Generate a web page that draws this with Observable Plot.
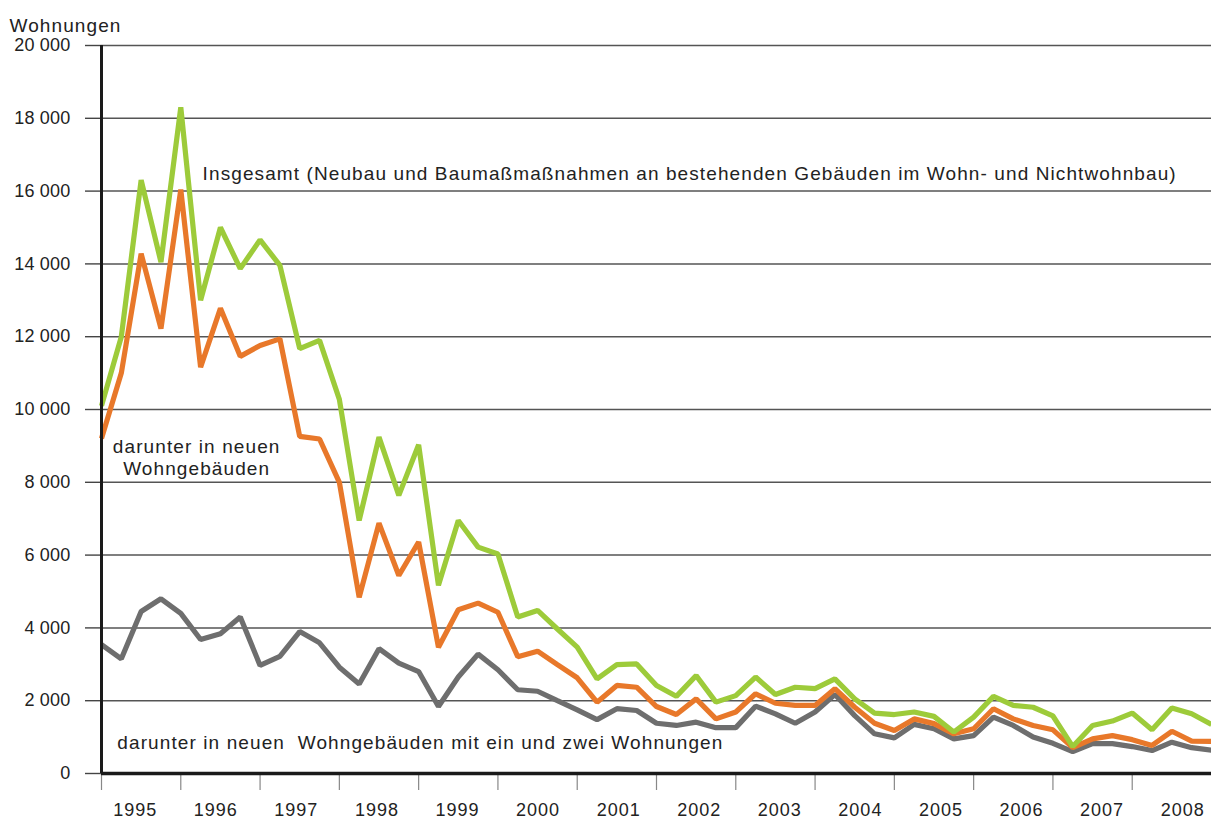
<!DOCTYPE html>
<html>
<head>
<meta charset="utf-8">
<script src="https://cdn.jsdelivr.net/npm/d3@7"></script>
<script src="https://cdn.jsdelivr.net/npm/@observablehq/plot@0.6"></script>
<style>
  html, body { margin: 0; padding: 0; background: #fff; }
  svg { font-family: "Liberation Sans", Arial, sans-serif; }
</style>
</head>
<body>
<div id="chart"></div>
<script>
// Quarterly values, 1995 Q1 ... 2009 Q1 (index 0..56)
const years = [1995,1996,1997,1998,1999,2000,2001,2002,2003,2004,2005,2006,2007,2008];
const yTicks = [0,2000,4000,6000,8000,10000,12000,14000,16000,18000,20000];

const insgesamt = [10100,12000,16300,14050,18300,13000,15000,13870,14660,13960,11670,11900,
  10280,6950,9240,7640,9030,5170,6950,6220,6030,4300,4480,3970,
  3470,2600,2990,3010,2420,2120,2690,1960,2140,2650,2170,2370,
  2330,2600,2050,1660,1620,1690,1570,1140,1550,2120,1870,1820,
  1580,740,1320,1440,1660,1200,1800,1640,1350];

const neueWohngebaeude = [9200,11000,14280,12220,16040,11160,12780,11460,11760,11940,9260,9190,
  8000,4840,6880,5440,6360,3470,4500,4680,4430,3210,3360,2990,
  2630,1960,2420,2370,1840,1620,2050,1500,1690,2190,1930,1870,
  1870,2330,1820,1380,1180,1500,1370,1090,1230,1780,1500,1320,
  1200,710,950,1040,930,770,1160,890,880];

const einZweiWohnungen = [3540,3150,4450,4800,4400,3680,3840,4300,2970,3220,3900,3590,
  2920,2460,3430,3030,2800,1840,2650,3280,2850,2300,2260,2000,
  1750,1480,1780,1730,1380,1320,1410,1260,1260,1850,1640,1380,
  1690,2170,1590,1090,980,1350,1230,950,1040,1550,1320,1000,
  830,600,820,820,740,630,860,710,640];

const toRows = arr => arr.map((v, i) => ({q: i, v}));

const boundaries = years.map((y, k) => k * 4);
const labelPos = years.map((y, k) => 1.7 + k * 4.065);

const font = '"Liberation Sans", Arial, sans-serif';

const chart = Plot.plot({
  width: 1211,
  height: 821,
  marginLeft: 101,
  marginRight: 0,
  marginTop: 45,
  marginBottom: 48,
  style: {fontFamily: font, fontSize: "17px", color: "#222", background: "#fff"},
  x: {domain: [0, 56], axis: null},
  y: {domain: [0, 20000], axis: null},
  marks: [
    Plot.gridY(yTicks.filter(d => d > 0), {stroke: "#555", strokeOpacity: 1, strokeWidth: 1.5}),
    Plot.axisY(yTicks, {
      tickSize: 16, tickPadding: 15, stroke: "#444", strokeWidth: 1.4,
      tickFormat: d => d3.format(",")(d).replace(/,/g, " "),
      fontSize: 18, fill: "#222", label: null
    }),
    Plot.axisX(boundaries, {
      anchor: "bottom", tickSize: 17, tickPadding: 0, stroke: "#888", strokeWidth: 1.2,
      tickFormat: () => "", label: null
    }),
    Plot.axisX(labelPos, {
      anchor: "bottom", tickSize: 0, tickPadding: 30,
      tickFormat: (d, i) => String(years[i]), fontSize: 18, fill: "#222", label: null
    }),
    Plot.line(toRows(einZweiWohnungen), {x: "q", y: "v", stroke: "#6e6e6e", strokeWidth: 5.2, strokeLinejoin: "miter", strokeLinecap: "butt"}),
    Plot.line(toRows(neueWohngebaeude), {x: "q", y: "v", stroke: "#e8782a", strokeWidth: 5.2, strokeLinejoin: "miter", strokeLinecap: "butt"}),
    Plot.line(toRows(insgesamt), {x: "q", y: "v", stroke: "#9dcb3a", strokeWidth: 5.2, strokeLinejoin: "miter", strokeLinecap: "butt"}),
    Plot.ruleX([0], {stroke: "#1a1a1a", strokeWidth: 3}),
    Plot.ruleY([0], {stroke: "#1a1a1a", strokeWidth: 3.5}),
    Plot.text(["Wohnungen"], {frameAnchor: "top-left", dx: -92, dy: -27, textAnchor: "start", fontSize: 19, fill: "#222"}),
    Plot.text(["Insgesamt (Neubau und Baumaßmaßnahmen an bestehenden Gebäuden im Wohn- und Nichtwohnbau)"],
      {x: 5.1, y: 16000, dy: -17, textAnchor: "start", fontSize: 19, fill: "#222"}),
    Plot.text(["darunter in neuen\nWohngebäuden"],
      {x: 4.8, y: 8700, textAnchor: "middle", lineHeight: 1.15, fontSize: 19, fill: "#222"}),
    Plot.text(["darunter in neuen  Wohngebäuden mit ein und zwei Wohnungen"],
      {x: 0.8, y: 830, textAnchor: "start", fontSize: 19, fill: "#222"})
  ]
});

const svg = d3.select(chart);
svg.selectAll("text").style("white-space", "pre");
svg.selectAll('g[aria-label="text"] text').style("letter-spacing", "1.1px");
svg.selectAll('g[aria-label="x-axis tick label"] text').style("letter-spacing", "1px");
svg.selectAll('g[aria-label="y-axis tick label"] text').style("letter-spacing", "0.2px");
document.getElementById("chart").appendChild(chart);
</script>
</body>
</html>
